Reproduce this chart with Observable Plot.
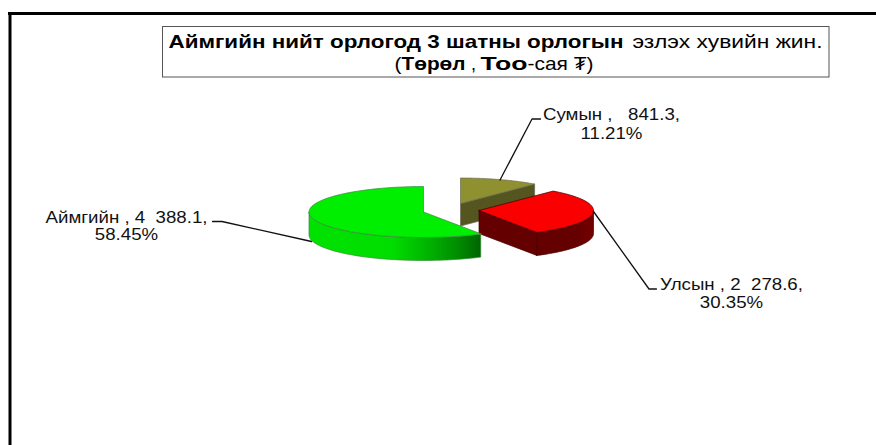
<!DOCTYPE html>
<html><head><meta charset="utf-8">
<style>html,body{margin:0;padding:0;background:#fff}svg{display:block}</style>
<script src="https://cdn.jsdelivr.net/npm/d3@7"></script>
<script src="https://cdn.jsdelivr.net/npm/@observablehq/plot@0.6"></script>
</head><body><div id="c"></div>
<script>
const categories = ["Сумын", "Улсын", "Аймгийн"];
const values = [841.3, 2278.6, 4388.1];
const valueLabels = ["841.3", "2 278.6", "4 388.1"];
const percents = ["11.21%", "30.35%", "58.45%"];
const titleBold = "Аймгийн нийт орлогод 3 шатны орлогын";
const titleRest = "эзлэх хувийн жин.";

const font = "Liberation Sans, Arial, sans-serif";
const total = d3.sum(values);
const rad = Math.PI / 180;
const rx = 114.5, ry = 25.5;
// placement of each exploded slice
const layout = [
  {cx: 460, cy: 203, depth: 22.5, top: "#8f9030", cut: "#55551f", edge: "#6b6b55", label: [611, 114, 133],
   leader: [[499.5, 179.5], [531.5, 118.5], [540, 118.5]]},
  {cx: 478.5, cy: 210, depth: 23, top: "#fb0000", cut: "#640000", edge: "#400000", rim: "url(#rimRed)", wallFrom: 90, wallTo: 150, label: [731, 284, 302],
   leader: [[593, 211], [648.5, 288.5], [656, 288.5]]},
  {cx: 423, cy: 211.5, depth: 23, top: "#00ee00", cut: "#006a00", edge: "#3a8a3a", rim: "url(#rimGreen)", wallFrom: 150, wallTo: 270, label: [126, 217, 234],
   leader: [[311, 241], [221.5, 221], [212, 221]]}
];

let cum = 0;
const slices = categories.map((name, i) => {
  const a0 = cum / total * 360;
  cum += values[i];
  return {name, i, a0, a1: cum / total * 360, ...layout[i]};
});
const pt = (s, a, dz = 0) => ({x: s.cx + rx * Math.sin(a * rad), y: s.cy - ry * Math.cos(a * rad) + dz});
const arc = (s, a, b, dz = 0) => d3.range(0, 61).map(k => pt(s, a + (b - a) * k / 60, dz));
const poly = (pts, o) => Plot.line(pts, {x: "x", y: "y", curve: "linear", ...o});

const gradients = () => {
  const defs = d3.create("svg:defs");
  const add = (id, stops) => {
    const g = defs.append("linearGradient").attr("id", id);
    stops.forEach(([o, c]) => g.append("stop").attr("offset", o).attr("stop-color", c));
  };
  add("rimGreen", [[0, "#00e200"], [0.48, "#00de00"], [0.67, "#00b800"], [0.87, "#008c00"], [1, "#006400"]]);
  add("rimRed", [[0, "#640000"], [0.7, "#660000"], [1, "#740000"]]);
  return defs.node();
};

const sliceMarks = (s) => {
  const apex = {x: s.cx, y: s.cy};
  const marks = [];
  if (s.rim) {
    const outer = [...arc(s, s.wallFrom, s.wallTo), ...arc(s, s.wallTo, s.wallFrom, s.depth)];
    marks.push(poly([...outer, outer[0]], {fill: s.rim, stroke: s.edge, strokeWidth: 0.7}));
  }
  if (s.a1 < 180) {
    const e = pt(s, s.a1);
    marks.push(poly([apex, e, {x: e.x, y: e.y + s.depth}, {x: apex.x, y: apex.y + s.depth}, apex],
      {fill: s.cut, stroke: s.edge, strokeWidth: 0.7}));
  }
  marks.push(poly([apex, ...arc(s, s.a0, s.a1), apex], {fill: s.top, stroke: s.edge, strokeWidth: 0.7}));
  return marks;
};

const labelFont = 16, labelStretch = 1.167;
const labelMarks = slices.flatMap(s => [
  Plot.text([`${s.name} , ${valueLabels[s.i].replace(" ", "\u00a0 ")},`.replace(" , 841", " ,\u00a0\u00a0 841")], {
    x: () => s.label[0], y: () => s.label[1], text: d => d, fontSize: labelFont, fontFamily: font, fill: "#111", textAnchor: "middle"}),
  Plot.text([percents[s.i]], {
    x: () => s.label[0], y: () => s.label[2], text: d => d, fontSize: labelFont, fontFamily: font, fill: "#111", textAnchor: "middle"}),
  poly(s.leader.map(([x, y]) => ({x, y})), {stroke: "#111", strokeWidth: 1.3})
]);

const titleRuns = [
  {t: titleBold, x: 168, y: 41.5, w: "bold", a: "start", len: 455},
  {t: titleRest, x: 822, y: 41.5, w: "normal", a: "end", len: 190},
  {t: "(", x: 394, y: 64, w: "normal", a: "start", len: 7},
  {t: "Төрөл", x: 401, y: 64, w: "bold", a: "start", len: 64},
  {t: ",", x: 470.5, y: 64, w: "normal", a: "start", len: 5},
  {t: "Тоо", x: 480, y: 64, w: "bold", a: "start", len: 47},
  {t: "-сая ₮)", x: 527, y: 64, w: "normal", a: "start", len: 66}
];
const titleLengths = new Map(titleRuns.map(r => [r.t, r.len]));

const chart = Plot.plot({
  width: 876, height: 445,
  marginTop: 0, marginRight: 0, marginBottom: 0, marginLeft: 0,
  x: {domain: [0, 876], range: [0, 876], axis: null},
  y: {domain: [0, 445], range: [0, 445], axis: null},
  style: {background: "#fff"},
  marks: [
    gradients,
    Plot.ruleY([13], {x1: 8, x2: 876, stroke: "#000", strokeWidth: 3}),
    Plot.ruleX([9.5], {y1: 12, y2: 445, stroke: "#000", strokeWidth: 3}),
    Plot.rect([{x1: 162.5, x2: 829, y1: 26.5, y2: 77}], {x1: "x1", x2: "x2", y1: "y1", y2: "y2", fill: "#fff", stroke: "#555", strokeWidth: 1}),
    sliceMarks(slices[0]),
    sliceMarks(slices[1]),
    sliceMarks(slices[2]),
    labelMarks,
    titleRuns.map(r => Plot.text([r], {x: "x", y: "y", text: "t", fontSize: 18.5, fontFamily: font, fontWeight: r.w, textAnchor: r.a, fill: "#000"}))
  ]
});
document.getElementById("c").append(chart);
// the reference's lettering is wider than the font's natural proportions
chart.querySelectorAll("text").forEach(t => {
  const len = titleLengths.get(t.textContent) ?? t.getComputedTextLength() * labelStretch;
  t.setAttribute("lengthAdjust", "spacingAndGlyphs");
  t.setAttribute("textLength", len.toFixed(1));
});
</script></body></html>
